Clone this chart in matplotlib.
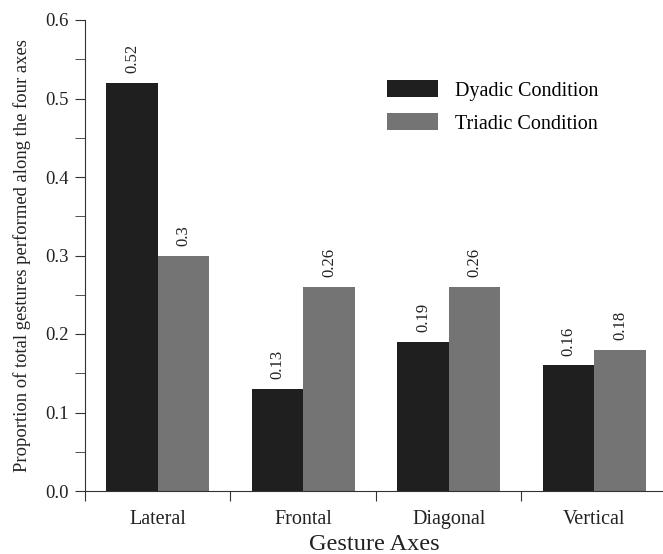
import matplotlib.pyplot as plt
import numpy as np

# data
categories = ['Lateral', 'Frontal', 'Diagonal', 'Vertical']
dyadic = [0.52, 0.13, 0.19, 0.16]
triadic = [0.30, 0.26, 0.26, 0.18]

plt.rcParams['font.family'] = ['Liberation Serif', 'DejaVu Serif']

fig = plt.figure(figsize=(6.63, 5.54), dpi=100)
ax = fig.add_axes([85 / 663, 63 / 554, 1 - 85 / 663, 471 / 554])

x = np.arange(len(categories)) + 0.5
w = 0.355
b1 = ax.bar(x - w / 2, dyadic, w, color='#1f1f1f', label='Dyadic Condition')
b2 = ax.bar(x + w / 2, triadic, w, color='#747474', label='Triadic Condition')

ax.bar_label(b1, labels=['%g' % v for v in dyadic], rotation=90, padding=7, fontsize=12, color='#222222')
ax.bar_label(b2, labels=['%g' % v for v in triadic], rotation=90, padding=7, fontsize=12, color='#222222')

ax.set_xlim(0, (663 - 85) / 145.5)
ax.set_ylim(0, 0.6)
ax.set_yticks(np.arange(0, 0.61, 0.1))
ax.set_yticklabels(['%.1f' % v for v in np.arange(0, 0.61, 0.1)], fontsize=13.5, color='#222222')
ax.set_yticks(np.arange(0.05, 0.6, 0.1), minor=True)

# ticks at category boundaries, labels at the centres
ax.set_xticks([0, 1, 2, 3])
ax.set_xticklabels([])
ax.set_xticks(x, minor=True)
ax.set_xticklabels(categories, minor=True, fontsize=14.5, color='#222222')
ax.tick_params(axis='x', which='minor', length=0, pad=14)
ax.tick_params(axis='x', which='major', length=7, direction='out', color='#333333')
ax.tick_params(axis='y', which='both', length=7, direction='out', color='#333333', pad=5)

for s in ['top', 'right']:
    ax.spines[s].set_visible(False)
for s in ['left', 'bottom']:
    ax.spines[s].set_color('#333333')

ax.set_xlabel('Gesture Axes', fontsize=17.5, labelpad=3, color='#222222')
ax.set_ylabel('Proportion of total gestures performed along the four axes', fontsize=13.4,
              labelpad=10, color='#222222')

ax.legend(loc='upper left', bbox_to_anchor=(387 / 663, 1 - 80 / 554), bbox_transform=fig.transFigure,
          frameon=False, fontsize=14.5, handlelength=2.55, handleheight=0.95, borderpad=0, borderaxespad=0,
          labelspacing=0.62, handletextpad=0.85)

fig.savefig('out.png', dpi=100)
